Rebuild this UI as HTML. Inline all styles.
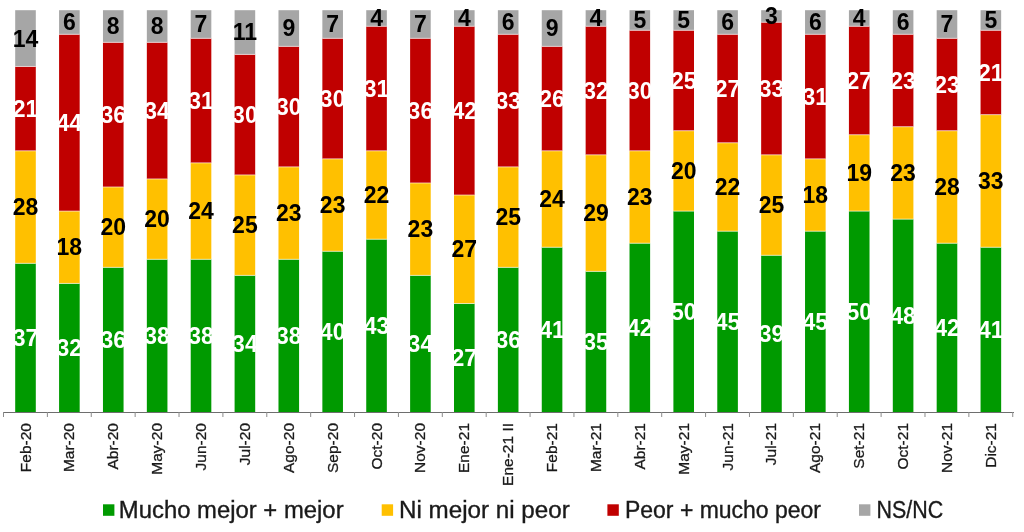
<!DOCTYPE html>
<html><head><meta charset="utf-8"><style>
html,body{margin:0;padding:0;background:#fff;width:1024px;height:532px;overflow:hidden}
svg{display:block;will-change:transform}
.vw,.vb{font-family:"Liberation Sans",sans-serif;font-size:23px;text-anchor:middle}
.vw{font-weight:bold}
.vb{font-weight:bold}
.xl{font-family:"Liberation Sans",sans-serif;font-size:15.5px;fill:#1a1a1a;stroke:#1a1a1a;stroke-width:0.3px}
.lg{font-family:"Liberation Sans",sans-serif;font-size:23px;fill:#1a1a1a;stroke:#1a1a1a;stroke-width:0.35px}
</style></head><body>
<svg width="1024" height="532" viewBox="0 0 1024 532">
<rect x="15.20" y="263.33" width="20.6" height="148.67" fill="#009a00"/>
<rect x="15.20" y="150.83" width="20.6" height="112.50" fill="#ffc000"/>
<rect x="15.20" y="66.45" width="20.6" height="84.38" fill="#c00000"/>
<rect x="15.20" y="10.20" width="20.6" height="56.25" fill="#a6a6a6"/>
<rect x="15.20" y="262.83" width="20.6" height="1" fill="#fff" fill-opacity="0.6"/>
<rect x="15.20" y="150.33" width="20.6" height="1" fill="#fff" fill-opacity="0.6"/>
<rect x="15.20" y="65.95" width="20.6" height="1" fill="#fff" fill-opacity="0.6"/>
<text x="25.50" y="345.85" fill="#fff" class="vw">37</text>
<text x="25.50" y="215.26" fill="#000" class="vb">28</text>
<text x="25.50" y="116.82" fill="#fff" class="vw">21</text>
<text x="25.50" y="46.51" fill="#000" class="vb">14</text>
<rect x="59.08" y="283.42" width="20.6" height="128.58" fill="#009a00"/>
<rect x="59.08" y="211.10" width="20.6" height="72.32" fill="#ffc000"/>
<rect x="59.08" y="34.31" width="20.6" height="176.79" fill="#c00000"/>
<rect x="59.08" y="10.20" width="20.6" height="24.11" fill="#a6a6a6"/>
<rect x="59.08" y="282.92" width="20.6" height="1" fill="#fff" fill-opacity="0.6"/>
<rect x="59.08" y="210.60" width="20.6" height="1" fill="#fff" fill-opacity="0.6"/>
<rect x="59.08" y="33.81" width="20.6" height="1" fill="#fff" fill-opacity="0.6"/>
<text x="69.38" y="355.89" fill="#fff" class="vw">32</text>
<text x="69.38" y="255.44" fill="#000" class="vb">18</text>
<text x="69.38" y="130.88" fill="#fff" class="vw">44</text>
<text x="69.38" y="30.43" fill="#000" class="vb">6</text>
<rect x="102.96" y="267.35" width="20.6" height="144.65" fill="#009a00"/>
<rect x="102.96" y="186.99" width="20.6" height="80.36" fill="#ffc000"/>
<rect x="102.96" y="42.34" width="20.6" height="144.65" fill="#c00000"/>
<rect x="102.96" y="10.20" width="20.6" height="32.14" fill="#a6a6a6"/>
<rect x="102.96" y="266.85" width="20.6" height="1" fill="#fff" fill-opacity="0.6"/>
<rect x="102.96" y="186.49" width="20.6" height="1" fill="#fff" fill-opacity="0.6"/>
<rect x="102.96" y="41.84" width="20.6" height="1" fill="#fff" fill-opacity="0.6"/>
<text x="113.26" y="347.86" fill="#fff" class="vw">36</text>
<text x="113.26" y="235.35" fill="#000" class="vb">20</text>
<text x="113.26" y="122.85" fill="#fff" class="vw">36</text>
<text x="113.26" y="34.45" fill="#000" class="vb">8</text>
<rect x="146.84" y="259.32" width="20.6" height="152.68" fill="#009a00"/>
<rect x="146.84" y="178.96" width="20.6" height="80.36" fill="#ffc000"/>
<rect x="146.84" y="42.34" width="20.6" height="136.61" fill="#c00000"/>
<rect x="146.84" y="10.20" width="20.6" height="32.14" fill="#a6a6a6"/>
<rect x="146.84" y="258.82" width="20.6" height="1" fill="#fff" fill-opacity="0.6"/>
<rect x="146.84" y="178.46" width="20.6" height="1" fill="#fff" fill-opacity="0.6"/>
<rect x="146.84" y="41.84" width="20.6" height="1" fill="#fff" fill-opacity="0.6"/>
<text x="157.14" y="343.84" fill="#fff" class="vw">38</text>
<text x="157.14" y="227.32" fill="#000" class="vb">20</text>
<text x="157.14" y="118.83" fill="#fff" class="vw">34</text>
<text x="157.14" y="34.45" fill="#000" class="vb">8</text>
<rect x="190.72" y="259.32" width="20.6" height="152.68" fill="#009a00"/>
<rect x="190.72" y="162.88" width="20.6" height="96.43" fill="#ffc000"/>
<rect x="190.72" y="38.33" width="20.6" height="124.56" fill="#c00000"/>
<rect x="190.72" y="10.20" width="20.6" height="28.13" fill="#a6a6a6"/>
<rect x="190.72" y="258.82" width="20.6" height="1" fill="#fff" fill-opacity="0.6"/>
<rect x="190.72" y="162.38" width="20.6" height="1" fill="#fff" fill-opacity="0.6"/>
<rect x="190.72" y="37.83" width="20.6" height="1" fill="#fff" fill-opacity="0.6"/>
<text x="201.02" y="343.84" fill="#fff" class="vw">38</text>
<text x="201.02" y="219.28" fill="#000" class="vb">24</text>
<text x="201.02" y="108.78" fill="#fff" class="vw">31</text>
<text x="201.02" y="32.44" fill="#000" class="vb">7</text>
<rect x="234.60" y="275.39" width="20.6" height="136.61" fill="#009a00"/>
<rect x="234.60" y="174.94" width="20.6" height="100.45" fill="#ffc000"/>
<rect x="234.60" y="54.40" width="20.6" height="120.54" fill="#c00000"/>
<rect x="234.60" y="10.20" width="20.6" height="44.20" fill="#a6a6a6"/>
<rect x="234.60" y="274.89" width="20.6" height="1" fill="#fff" fill-opacity="0.6"/>
<rect x="234.60" y="174.44" width="20.6" height="1" fill="#fff" fill-opacity="0.6"/>
<rect x="234.60" y="53.90" width="20.6" height="1" fill="#fff" fill-opacity="0.6"/>
<text x="244.90" y="351.87" fill="#fff" class="vw">34</text>
<text x="244.90" y="233.34" fill="#000" class="vb">25</text>
<text x="244.90" y="122.85" fill="#fff" class="vw">30</text>
<text x="244.90" y="40.48" fill="#000" class="vb">11</text>
<rect x="278.48" y="259.32" width="20.6" height="152.68" fill="#009a00"/>
<rect x="278.48" y="166.90" width="20.6" height="92.41" fill="#ffc000"/>
<rect x="278.48" y="46.36" width="20.6" height="120.54" fill="#c00000"/>
<rect x="278.48" y="10.20" width="20.6" height="36.16" fill="#a6a6a6"/>
<rect x="278.48" y="258.82" width="20.6" height="1" fill="#fff" fill-opacity="0.6"/>
<rect x="278.48" y="166.40" width="20.6" height="1" fill="#fff" fill-opacity="0.6"/>
<rect x="278.48" y="45.86" width="20.6" height="1" fill="#fff" fill-opacity="0.6"/>
<text x="288.78" y="343.84" fill="#fff" class="vw">38</text>
<text x="288.78" y="221.29" fill="#000" class="vb">23</text>
<text x="288.78" y="114.81" fill="#fff" class="vw">30</text>
<text x="288.78" y="36.46" fill="#000" class="vb">9</text>
<rect x="322.36" y="251.28" width="20.6" height="160.72" fill="#009a00"/>
<rect x="322.36" y="158.87" width="20.6" height="92.41" fill="#ffc000"/>
<rect x="322.36" y="38.33" width="20.6" height="120.54" fill="#c00000"/>
<rect x="322.36" y="10.20" width="20.6" height="28.13" fill="#a6a6a6"/>
<rect x="322.36" y="250.78" width="20.6" height="1" fill="#fff" fill-opacity="0.6"/>
<rect x="322.36" y="158.37" width="20.6" height="1" fill="#fff" fill-opacity="0.6"/>
<rect x="322.36" y="37.83" width="20.6" height="1" fill="#fff" fill-opacity="0.6"/>
<text x="332.66" y="339.82" fill="#fff" class="vw">40</text>
<text x="332.66" y="213.25" fill="#000" class="vb">23</text>
<text x="332.66" y="106.78" fill="#fff" class="vw">30</text>
<text x="332.66" y="32.44" fill="#000" class="vb">7</text>
<rect x="366.24" y="239.23" width="20.6" height="172.77" fill="#009a00"/>
<rect x="366.24" y="150.83" width="20.6" height="88.40" fill="#ffc000"/>
<rect x="366.24" y="26.27" width="20.6" height="124.56" fill="#c00000"/>
<rect x="366.24" y="10.20" width="20.6" height="16.07" fill="#a6a6a6"/>
<rect x="366.24" y="238.73" width="20.6" height="1" fill="#fff" fill-opacity="0.6"/>
<rect x="366.24" y="150.33" width="20.6" height="1" fill="#fff" fill-opacity="0.6"/>
<rect x="366.24" y="25.77" width="20.6" height="1" fill="#fff" fill-opacity="0.6"/>
<text x="376.54" y="333.79" fill="#fff" class="vw">43</text>
<text x="376.54" y="203.21" fill="#000" class="vb">22</text>
<text x="376.54" y="96.73" fill="#fff" class="vw">31</text>
<text x="376.54" y="26.42" fill="#000" class="vb">4</text>
<rect x="410.12" y="275.39" width="20.6" height="136.61" fill="#009a00"/>
<rect x="410.12" y="182.97" width="20.6" height="92.41" fill="#ffc000"/>
<rect x="410.12" y="38.33" width="20.6" height="144.65" fill="#c00000"/>
<rect x="410.12" y="10.20" width="20.6" height="28.13" fill="#a6a6a6"/>
<rect x="410.12" y="274.89" width="20.6" height="1" fill="#fff" fill-opacity="0.6"/>
<rect x="410.12" y="182.47" width="20.6" height="1" fill="#fff" fill-opacity="0.6"/>
<rect x="410.12" y="37.83" width="20.6" height="1" fill="#fff" fill-opacity="0.6"/>
<text x="420.42" y="351.87" fill="#fff" class="vw">34</text>
<text x="420.42" y="237.36" fill="#000" class="vb">23</text>
<text x="420.42" y="118.83" fill="#fff" class="vw">36</text>
<text x="420.42" y="32.44" fill="#000" class="vb">7</text>
<rect x="454.00" y="303.51" width="20.6" height="108.49" fill="#009a00"/>
<rect x="454.00" y="195.03" width="20.6" height="108.49" fill="#ffc000"/>
<rect x="454.00" y="26.27" width="20.6" height="168.76" fill="#c00000"/>
<rect x="454.00" y="10.20" width="20.6" height="16.07" fill="#a6a6a6"/>
<rect x="454.00" y="303.01" width="20.6" height="1" fill="#fff" fill-opacity="0.6"/>
<rect x="454.00" y="194.53" width="20.6" height="1" fill="#fff" fill-opacity="0.6"/>
<rect x="454.00" y="25.77" width="20.6" height="1" fill="#fff" fill-opacity="0.6"/>
<text x="464.30" y="365.94" fill="#fff" class="vw">27</text>
<text x="464.30" y="257.45" fill="#000" class="vb">27</text>
<text x="464.30" y="118.83" fill="#fff" class="vw">42</text>
<text x="464.30" y="26.42" fill="#000" class="vb">4</text>
<rect x="497.88" y="267.35" width="20.6" height="144.65" fill="#009a00"/>
<rect x="497.88" y="166.90" width="20.6" height="100.45" fill="#ffc000"/>
<rect x="497.88" y="34.31" width="20.6" height="132.59" fill="#c00000"/>
<rect x="497.88" y="10.20" width="20.6" height="24.11" fill="#a6a6a6"/>
<rect x="497.88" y="266.85" width="20.6" height="1" fill="#fff" fill-opacity="0.6"/>
<rect x="497.88" y="166.40" width="20.6" height="1" fill="#fff" fill-opacity="0.6"/>
<rect x="497.88" y="33.81" width="20.6" height="1" fill="#fff" fill-opacity="0.6"/>
<text x="508.18" y="347.86" fill="#fff" class="vw">36</text>
<text x="508.18" y="225.31" fill="#000" class="vb">25</text>
<text x="508.18" y="108.78" fill="#fff" class="vw">33</text>
<text x="508.18" y="30.43" fill="#000" class="vb">6</text>
<rect x="541.76" y="247.26" width="20.6" height="164.74" fill="#009a00"/>
<rect x="541.76" y="150.83" width="20.6" height="96.43" fill="#ffc000"/>
<rect x="541.76" y="46.36" width="20.6" height="104.47" fill="#c00000"/>
<rect x="541.76" y="10.20" width="20.6" height="36.16" fill="#a6a6a6"/>
<rect x="541.76" y="246.76" width="20.6" height="1" fill="#fff" fill-opacity="0.6"/>
<rect x="541.76" y="150.33" width="20.6" height="1" fill="#fff" fill-opacity="0.6"/>
<rect x="541.76" y="45.86" width="20.6" height="1" fill="#fff" fill-opacity="0.6"/>
<text x="552.06" y="337.81" fill="#fff" class="vw">41</text>
<text x="552.06" y="207.23" fill="#000" class="vb">24</text>
<text x="552.06" y="106.78" fill="#fff" class="vw">26</text>
<text x="552.06" y="36.46" fill="#000" class="vb">9</text>
<rect x="585.64" y="271.37" width="20.6" height="140.63" fill="#009a00"/>
<rect x="585.64" y="154.85" width="20.6" height="116.52" fill="#ffc000"/>
<rect x="585.64" y="26.27" width="20.6" height="128.58" fill="#c00000"/>
<rect x="585.64" y="10.20" width="20.6" height="16.07" fill="#a6a6a6"/>
<rect x="585.64" y="270.87" width="20.6" height="1" fill="#fff" fill-opacity="0.6"/>
<rect x="585.64" y="154.35" width="20.6" height="1" fill="#fff" fill-opacity="0.6"/>
<rect x="585.64" y="25.77" width="20.6" height="1" fill="#fff" fill-opacity="0.6"/>
<text x="595.94" y="349.86" fill="#fff" class="vw">35</text>
<text x="595.94" y="221.29" fill="#000" class="vb">29</text>
<text x="595.94" y="98.74" fill="#fff" class="vw">32</text>
<text x="595.94" y="26.42" fill="#000" class="vb">4</text>
<rect x="629.52" y="243.24" width="20.6" height="168.76" fill="#009a00"/>
<rect x="629.52" y="150.83" width="20.6" height="92.41" fill="#ffc000"/>
<rect x="629.52" y="30.29" width="20.6" height="120.54" fill="#c00000"/>
<rect x="629.52" y="10.20" width="20.6" height="20.09" fill="#a6a6a6"/>
<rect x="629.52" y="242.74" width="20.6" height="1" fill="#fff" fill-opacity="0.6"/>
<rect x="629.52" y="150.33" width="20.6" height="1" fill="#fff" fill-opacity="0.6"/>
<rect x="629.52" y="29.79" width="20.6" height="1" fill="#fff" fill-opacity="0.6"/>
<text x="639.82" y="335.80" fill="#fff" class="vw">42</text>
<text x="639.82" y="205.22" fill="#000" class="vb">23</text>
<text x="639.82" y="98.74" fill="#fff" class="vw">30</text>
<text x="639.82" y="28.43" fill="#000" class="vb">5</text>
<rect x="673.40" y="211.10" width="20.6" height="200.90" fill="#009a00"/>
<rect x="673.40" y="130.74" width="20.6" height="80.36" fill="#ffc000"/>
<rect x="673.40" y="30.29" width="20.6" height="100.45" fill="#c00000"/>
<rect x="673.40" y="10.20" width="20.6" height="20.09" fill="#a6a6a6"/>
<rect x="673.40" y="210.60" width="20.6" height="1" fill="#fff" fill-opacity="0.6"/>
<rect x="673.40" y="130.24" width="20.6" height="1" fill="#fff" fill-opacity="0.6"/>
<rect x="673.40" y="29.79" width="20.6" height="1" fill="#fff" fill-opacity="0.6"/>
<text x="683.70" y="319.73" fill="#fff" class="vw">50</text>
<text x="683.70" y="179.10" fill="#000" class="vb">20</text>
<text x="683.70" y="88.70" fill="#fff" class="vw">25</text>
<text x="683.70" y="28.43" fill="#000" class="vb">5</text>
<rect x="717.28" y="231.19" width="20.6" height="180.81" fill="#009a00"/>
<rect x="717.28" y="142.79" width="20.6" height="88.40" fill="#ffc000"/>
<rect x="717.28" y="34.31" width="20.6" height="108.49" fill="#c00000"/>
<rect x="717.28" y="10.20" width="20.6" height="24.11" fill="#a6a6a6"/>
<rect x="717.28" y="230.69" width="20.6" height="1" fill="#fff" fill-opacity="0.6"/>
<rect x="717.28" y="142.29" width="20.6" height="1" fill="#fff" fill-opacity="0.6"/>
<rect x="717.28" y="33.81" width="20.6" height="1" fill="#fff" fill-opacity="0.6"/>
<text x="727.58" y="329.77" fill="#fff" class="vw">45</text>
<text x="727.58" y="195.17" fill="#000" class="vb">22</text>
<text x="727.58" y="96.73" fill="#fff" class="vw">27</text>
<text x="727.58" y="30.43" fill="#000" class="vb">6</text>
<rect x="761.16" y="255.30" width="20.6" height="156.70" fill="#009a00"/>
<rect x="761.16" y="154.85" width="20.6" height="100.45" fill="#ffc000"/>
<rect x="761.16" y="22.25" width="20.6" height="132.59" fill="#c00000"/>
<rect x="761.16" y="10.20" width="20.6" height="12.05" fill="#a6a6a6"/>
<rect x="761.16" y="254.80" width="20.6" height="1" fill="#fff" fill-opacity="0.6"/>
<rect x="761.16" y="154.35" width="20.6" height="1" fill="#fff" fill-opacity="0.6"/>
<rect x="761.16" y="21.75" width="20.6" height="1" fill="#fff" fill-opacity="0.6"/>
<text x="771.46" y="341.83" fill="#fff" class="vw">39</text>
<text x="771.46" y="213.25" fill="#000" class="vb">25</text>
<text x="771.46" y="96.73" fill="#fff" class="vw">33</text>
<text x="771.46" y="24.41" fill="#000" class="vb">3</text>
<rect x="805.04" y="231.19" width="20.6" height="180.81" fill="#009a00"/>
<rect x="805.04" y="158.87" width="20.6" height="72.32" fill="#ffc000"/>
<rect x="805.04" y="34.31" width="20.6" height="124.56" fill="#c00000"/>
<rect x="805.04" y="10.20" width="20.6" height="24.11" fill="#a6a6a6"/>
<rect x="805.04" y="230.69" width="20.6" height="1" fill="#fff" fill-opacity="0.6"/>
<rect x="805.04" y="158.37" width="20.6" height="1" fill="#fff" fill-opacity="0.6"/>
<rect x="805.04" y="33.81" width="20.6" height="1" fill="#fff" fill-opacity="0.6"/>
<text x="815.34" y="329.77" fill="#fff" class="vw">45</text>
<text x="815.34" y="203.21" fill="#000" class="vb">18</text>
<text x="815.34" y="104.77" fill="#fff" class="vw">31</text>
<text x="815.34" y="30.43" fill="#000" class="vb">6</text>
<rect x="848.92" y="211.10" width="20.6" height="200.90" fill="#009a00"/>
<rect x="848.92" y="134.76" width="20.6" height="76.34" fill="#ffc000"/>
<rect x="848.92" y="26.27" width="20.6" height="108.49" fill="#c00000"/>
<rect x="848.92" y="10.20" width="20.6" height="16.07" fill="#a6a6a6"/>
<rect x="848.92" y="210.60" width="20.6" height="1" fill="#fff" fill-opacity="0.6"/>
<rect x="848.92" y="134.26" width="20.6" height="1" fill="#fff" fill-opacity="0.6"/>
<rect x="848.92" y="25.77" width="20.6" height="1" fill="#fff" fill-opacity="0.6"/>
<text x="859.22" y="319.73" fill="#fff" class="vw">50</text>
<text x="859.22" y="181.11" fill="#000" class="vb">19</text>
<text x="859.22" y="88.69" fill="#fff" class="vw">27</text>
<text x="859.22" y="26.42" fill="#000" class="vb">4</text>
<rect x="892.80" y="219.14" width="20.6" height="192.86" fill="#009a00"/>
<rect x="892.80" y="126.72" width="20.6" height="92.41" fill="#ffc000"/>
<rect x="892.80" y="34.31" width="20.6" height="92.41" fill="#c00000"/>
<rect x="892.80" y="10.20" width="20.6" height="24.11" fill="#a6a6a6"/>
<rect x="892.80" y="218.64" width="20.6" height="1" fill="#fff" fill-opacity="0.6"/>
<rect x="892.80" y="126.22" width="20.6" height="1" fill="#fff" fill-opacity="0.6"/>
<rect x="892.80" y="33.81" width="20.6" height="1" fill="#fff" fill-opacity="0.6"/>
<text x="903.10" y="323.75" fill="#fff" class="vw">48</text>
<text x="903.10" y="181.11" fill="#000" class="vb">23</text>
<text x="903.10" y="88.69" fill="#fff" class="vw">23</text>
<text x="903.10" y="30.43" fill="#000" class="vb">6</text>
<rect x="936.68" y="243.24" width="20.6" height="168.76" fill="#009a00"/>
<rect x="936.68" y="130.74" width="20.6" height="112.50" fill="#ffc000"/>
<rect x="936.68" y="38.33" width="20.6" height="92.41" fill="#c00000"/>
<rect x="936.68" y="10.20" width="20.6" height="28.13" fill="#a6a6a6"/>
<rect x="936.68" y="242.74" width="20.6" height="1" fill="#fff" fill-opacity="0.6"/>
<rect x="936.68" y="130.24" width="20.6" height="1" fill="#fff" fill-opacity="0.6"/>
<rect x="936.68" y="37.83" width="20.6" height="1" fill="#fff" fill-opacity="0.6"/>
<text x="946.98" y="335.80" fill="#fff" class="vw">42</text>
<text x="946.98" y="195.17" fill="#000" class="vb">28</text>
<text x="946.98" y="92.71" fill="#fff" class="vw">23</text>
<text x="946.98" y="32.44" fill="#000" class="vb">7</text>
<rect x="980.56" y="247.26" width="20.6" height="164.74" fill="#009a00"/>
<rect x="980.56" y="114.67" width="20.6" height="132.59" fill="#ffc000"/>
<rect x="980.56" y="30.29" width="20.6" height="84.38" fill="#c00000"/>
<rect x="980.56" y="10.20" width="20.6" height="20.09" fill="#a6a6a6"/>
<rect x="980.56" y="246.76" width="20.6" height="1" fill="#fff" fill-opacity="0.6"/>
<rect x="980.56" y="114.17" width="20.6" height="1" fill="#fff" fill-opacity="0.6"/>
<rect x="980.56" y="29.79" width="20.6" height="1" fill="#fff" fill-opacity="0.6"/>
<text x="990.86" y="337.81" fill="#fff" class="vw">41</text>
<text x="990.86" y="189.15" fill="#000" class="vb">33</text>
<text x="990.86" y="80.66" fill="#fff" class="vw">21</text>
<text x="990.86" y="28.43" fill="#000" class="vb">5</text>
<rect x="3" y="412.00" width="1011" height="1" fill="#6e6e6e"/>
<rect x="3.00" y="412.00" width="1" height="5" fill="#8c8c8c"/>
<rect x="46.88" y="412.00" width="1" height="5" fill="#8c8c8c"/>
<rect x="90.76" y="412.00" width="1" height="5" fill="#8c8c8c"/>
<rect x="134.64" y="412.00" width="1" height="5" fill="#8c8c8c"/>
<rect x="178.52" y="412.00" width="1" height="5" fill="#8c8c8c"/>
<rect x="222.40" y="412.00" width="1" height="5" fill="#8c8c8c"/>
<rect x="266.28" y="412.00" width="1" height="5" fill="#8c8c8c"/>
<rect x="310.16" y="412.00" width="1" height="5" fill="#8c8c8c"/>
<rect x="354.04" y="412.00" width="1" height="5" fill="#8c8c8c"/>
<rect x="397.92" y="412.00" width="1" height="5" fill="#8c8c8c"/>
<rect x="441.80" y="412.00" width="1" height="5" fill="#8c8c8c"/>
<rect x="485.68" y="412.00" width="1" height="5" fill="#8c8c8c"/>
<rect x="529.56" y="412.00" width="1" height="5" fill="#8c8c8c"/>
<rect x="573.44" y="412.00" width="1" height="5" fill="#8c8c8c"/>
<rect x="617.32" y="412.00" width="1" height="5" fill="#8c8c8c"/>
<rect x="661.20" y="412.00" width="1" height="5" fill="#8c8c8c"/>
<rect x="705.08" y="412.00" width="1" height="5" fill="#8c8c8c"/>
<rect x="748.96" y="412.00" width="1" height="5" fill="#8c8c8c"/>
<rect x="792.84" y="412.00" width="1" height="5" fill="#8c8c8c"/>
<rect x="836.72" y="412.00" width="1" height="5" fill="#8c8c8c"/>
<rect x="880.60" y="412.00" width="1" height="5" fill="#8c8c8c"/>
<rect x="924.48" y="412.00" width="1" height="5" fill="#8c8c8c"/>
<rect x="968.36" y="412.00" width="1" height="5" fill="#8c8c8c"/>
<rect x="1012.24" y="412.00" width="1" height="5" fill="#8c8c8c"/>
<text class="xl" transform="translate(30.50,423) rotate(-90)" text-anchor="end">Feb-20</text>
<text class="xl" transform="translate(74.38,423) rotate(-90)" text-anchor="end">Mar-20</text>
<text class="xl" transform="translate(118.26,423) rotate(-90)" text-anchor="end">Abr-20</text>
<text class="xl" transform="translate(162.14,423) rotate(-90)" text-anchor="end">May-20</text>
<text class="xl" transform="translate(206.02,423) rotate(-90)" text-anchor="end">Jun-20</text>
<text class="xl" transform="translate(249.90,423) rotate(-90)" text-anchor="end">Jul-20</text>
<text class="xl" transform="translate(293.78,423) rotate(-90)" text-anchor="end">Ago-20</text>
<text class="xl" transform="translate(337.66,423) rotate(-90)" text-anchor="end">Sep-20</text>
<text class="xl" transform="translate(381.54,423) rotate(-90)" text-anchor="end">Oct-20</text>
<text class="xl" transform="translate(425.42,423) rotate(-90)" text-anchor="end">Nov-20</text>
<text class="xl" transform="translate(469.30,423) rotate(-90)" text-anchor="end">Ene-21</text>
<text class="xl" transform="translate(513.18,423) rotate(-90)" text-anchor="end">Ene-21 II</text>
<text class="xl" transform="translate(557.06,423) rotate(-90)" text-anchor="end">Feb-21</text>
<text class="xl" transform="translate(600.94,423) rotate(-90)" text-anchor="end">Mar-21</text>
<text class="xl" transform="translate(644.82,423) rotate(-90)" text-anchor="end">Abr-21</text>
<text class="xl" transform="translate(688.70,423) rotate(-90)" text-anchor="end">May-21</text>
<text class="xl" transform="translate(732.58,423) rotate(-90)" text-anchor="end">Jun-21</text>
<text class="xl" transform="translate(776.46,423) rotate(-90)" text-anchor="end">Jul-21</text>
<text class="xl" transform="translate(820.34,423) rotate(-90)" text-anchor="end">Ago-21</text>
<text class="xl" transform="translate(864.22,423) rotate(-90)" text-anchor="end">Set-21</text>
<text class="xl" transform="translate(908.10,423) rotate(-90)" text-anchor="end">Oct-21</text>
<text class="xl" transform="translate(951.98,423) rotate(-90)" text-anchor="end">Nov-21</text>
<text class="xl" transform="translate(995.86,423) rotate(-90)" text-anchor="end">Dic-21</text>
<rect x="103.0" y="504.3" width="11.4" height="11.5" fill="#009a00"/><text class="lg" x="118.80" y="517.7" textLength="224.80" lengthAdjust="spacingAndGlyphs">Mucho mejor + mejor</text><rect x="381.7" y="504.3" width="11.4" height="11.5" fill="#ffc000"/><text class="lg" x="399.00" y="517.7" textLength="170.80" lengthAdjust="spacingAndGlyphs">Ni mejor ni peor</text><rect x="607.4" y="504.3" width="11.4" height="11.5" fill="#c00000"/><text class="lg" x="625.00" y="517.7" textLength="196.00" lengthAdjust="spacingAndGlyphs">Peor + mucho peor</text><rect x="859.0" y="504.3" width="11.4" height="11.5" fill="#a6a6a6"/><text class="lg" x="876.60" y="517.7" textLength="66.60" lengthAdjust="spacingAndGlyphs">NS/NC</text>
</svg>
</body></html>
